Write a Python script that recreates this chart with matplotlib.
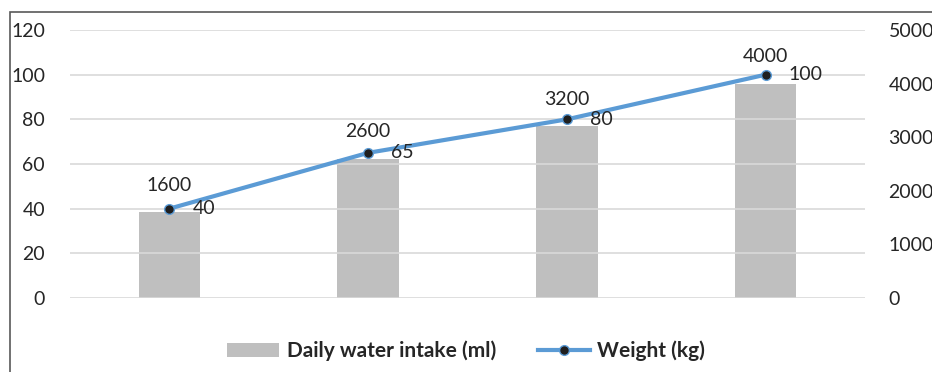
import matplotlib.pyplot as plt
from matplotlib.patches import Rectangle

plt.rcParams['font.family'] = ['Lato', 'DejaVu Sans']

categories = ["A", "B", "C", "D"]
water_intake = [1600, 2600, 3200, 4000]   # ml, right axis
weight = [40, 65, 80, 100]                # kg, left axis

bar_color = "#BFBFBF"
line_color = "#5B9BD5"
grid_color = "#D9D9D9"
text_color = "#262626"
fs = 14

fig = plt.figure(figsize=(9.32, 3.72), dpi=100)
ax = fig.add_axes([70 / 932, 74 / 372, 795 / 932, 268 / 372])
ax2 = ax.twinx()

# weight line lives on the left axis, bars on the right one
ax.set_zorder(ax2.get_zorder() + 1)
ax.patch.set_visible(False)

x = list(range(len(categories)))
bars = ax2.bar(x, water_intake, width=0.31, color=bar_color,
               label="Daily water intake (ml)", zorder=2)
line, = ax.plot(x, weight, color=line_color, lw=3, marker="o", ms=7,
                mfc="#1F1F1F", mec=line_color, mew=1,
                label="Weight (kg)", zorder=3)

ax.set_xlim(-0.5, 3.5)
ax.set_ylim(0, 120)
ax.set_yticks(range(0, 121, 20))
ax2.set_ylim(0, 5000)
ax2.set_yticks(range(0, 5001, 1000))

for a in (ax, ax2):
    for s in a.spines.values():
        s.set_visible(False)
    a.tick_params(length=0, labelsize=fs, labelcolor=text_color)
ax.tick_params(axis="y", pad=18)
ax2.tick_params(axis="y", pad=17)
ax.set_xticks([])
ax.yaxis.grid(True, color=grid_color, lw=1.2)
ax.set_axisbelow(True)
ax2.set_xticks([])

# data labels
for xi, v in zip(x, water_intake):
    ax2.annotate(f"{v}", (xi, v), xytext=(0, 19.5), textcoords="offset points",
                 ha="center", va="center", fontsize=fs, color=text_color)
for xi, v in zip(x, weight):
    ax.annotate(f"{v}", (xi, v), xytext=(16.5, 0), textcoords="offset points",
                ha="left", va="center", fontsize=fs, color=text_color)

fig.legend([bars, line], ["Daily water intake (ml)", "Weight (kg)"],
           loc="center", bbox_to_anchor=(466 / 932, 1 - 351 / 372),
           ncol=2, frameon=False, handlelength=2.5, columnspacing=2.0,
           handletextpad=0.35, prop={"weight": "bold", "size": 15},
           labelcolor=text_color)

# chart border (cropped on the right and bottom)
fig.patches.append(Rectangle((10 / 932, -0.1), 1.0, 1.1 - 12 / 372,
                             transform=fig.transFigure, fill=False,
                             ec="#595959", lw=1.2))

fig.savefig("out.png", dpi=100)
